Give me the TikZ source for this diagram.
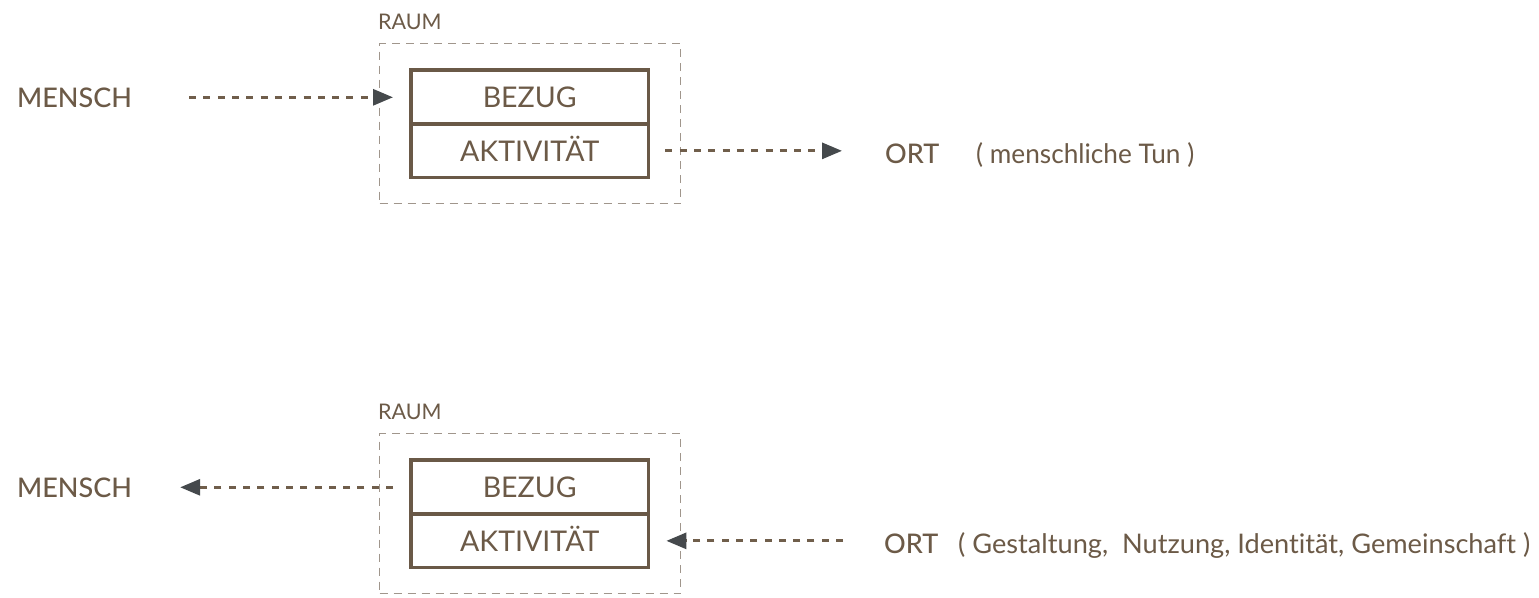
\documentclass[tikz,border=0pt]{standalone}
\usepackage{fontspec}
\usepackage{graphicx}
\setmainfont{Lato}
\IfFontExistsTF{Lato Light}{\newfontfamily\lightf[Ligatures=NoCommon]{Lato Light}}{\newfontfamily\lightf[Ligatures=NoCommon]{Lato}}
\IfFontExistsTF{Lato Medium}{\newfontfamily\medf[Ligatures=NoCommon]{Lato Medium}}{\newfontfamily\medf[Ligatures=NoCommon]{Lato}}
\newfontfamily\regf[Ligatures=NoCommon]{Lato}
\usetikzlibrary{arrows.meta,calc}
\definecolor{txt}{HTML}{6C5A47}
\definecolor{boxbrown}{HTML}{6A5947}
\definecolor{linebrown}{HTML}{705E4B}
\definecolor{raumgray}{HTML}{A0968C}
\definecolor{arrowgray}{HTML}{45494C}
\tikzset{
  raumbox/.style={draw=raumgray, line width=1.4pt, dash pattern=on 8pt off 6pt, inner sep=0pt,
    minimum width=301pt, minimum height=160pt, anchor=north west},
  cell/.style={minimum width=237pt, minimum height=53.5pt,
    inner sep=0pt, text=txt, font=\regf\fontsize{28.5}{31}\selectfont, text height=20.5pt, text depth=0pt},
  boxline/.style={draw=boxbrown, line width=3.3pt},
  conn/.style={draw=linebrown, line width=3pt, dash pattern=on 7pt off 7.3pt,
    -{Triangle[length=20pt,width=16pt,fill=arrowgray,color=arrowgray]}},
  head/.style={text=txt, inner sep=0pt, anchor=base west, font=\medf\fontsize{27}{30}\selectfont},
  note/.style={text=txt, inner sep=0pt, anchor=base west, font=\regf\fontsize{27}{30}\selectfont},
  raumlbl/.style={text=txt, inner sep=0pt, anchor=base west, font=\regf\fontsize{21.5}{24}\selectfont}
}
\begin{document}
\begin{tikzpicture}[x=1pt,y=-1pt]
\useasboundingbox[fill=white] (0,0) rectangle (1539,597);
% ---------- top ----------
\node[raumbox] (raum1) at (379,43) {};
\node[raumlbl] (rl1) at (378,29) {RAUM};
\node[cell, anchor=north west] (bez1) at (411,70) {BEZUG};
\node[cell, anchor=north] (akt1) at (bez1.south) {AKTIVITÄT};
\draw[boxline] (bez1.north west) rectangle (akt1.south east);
\draw[boxline] (bez1.south west) -- (bez1.south east);
\node[head] (mensch1) at (17,107) {MENSCH};
\node[head] (ort1) at (885,163) {ORT};
\node[note] (n1) at (976,163) {\resizebox{218pt}{\height}{( menschliche Tun )}};
\draw[conn] ($(mensch1.east)+(57,0)$) -- ($(mensch1.east -| bez1.west)+(-18,0)$);
\draw[conn] ($(akt1.east)+(17,0)$) -- ($(akt1.east -| ort1.west)+(-43,0)$);
% ---------- bottom ----------
\node[raumbox] (raum2) at (379,433) {};
\node[raumlbl] (rl2) at (378,419) {RAUM};
\node[cell, anchor=north west] (bez2) at (411,460) {BEZUG};
\node[cell, anchor=north] (akt2) at (bez2.south) {AKTIVITÄT};
\draw[boxline] (bez2.north west) rectangle (akt2.south east);
\draw[boxline] (bez2.south west) -- (bez2.south east);
\node[head] (mensch2) at (17,497) {MENSCH};
\node[head] (ort2) at (884,553) {ORT};
\node[note] (n2) at (958,553) {\resizebox{572pt}{\height}{( Gestaltung,\ \ Nutzung, Identität, Gemeinschaft )}};
\draw[conn] ($(mensch2.east -| bez2.west)+(-18,0)$) -- ($(mensch2.east)+(48,0)$);
\draw[conn] ($(akt2.east -| ort2.west)+(-41,0)$) -- ($(akt2.east)+(18,0)$);
\end{tikzpicture}
\end{document}
